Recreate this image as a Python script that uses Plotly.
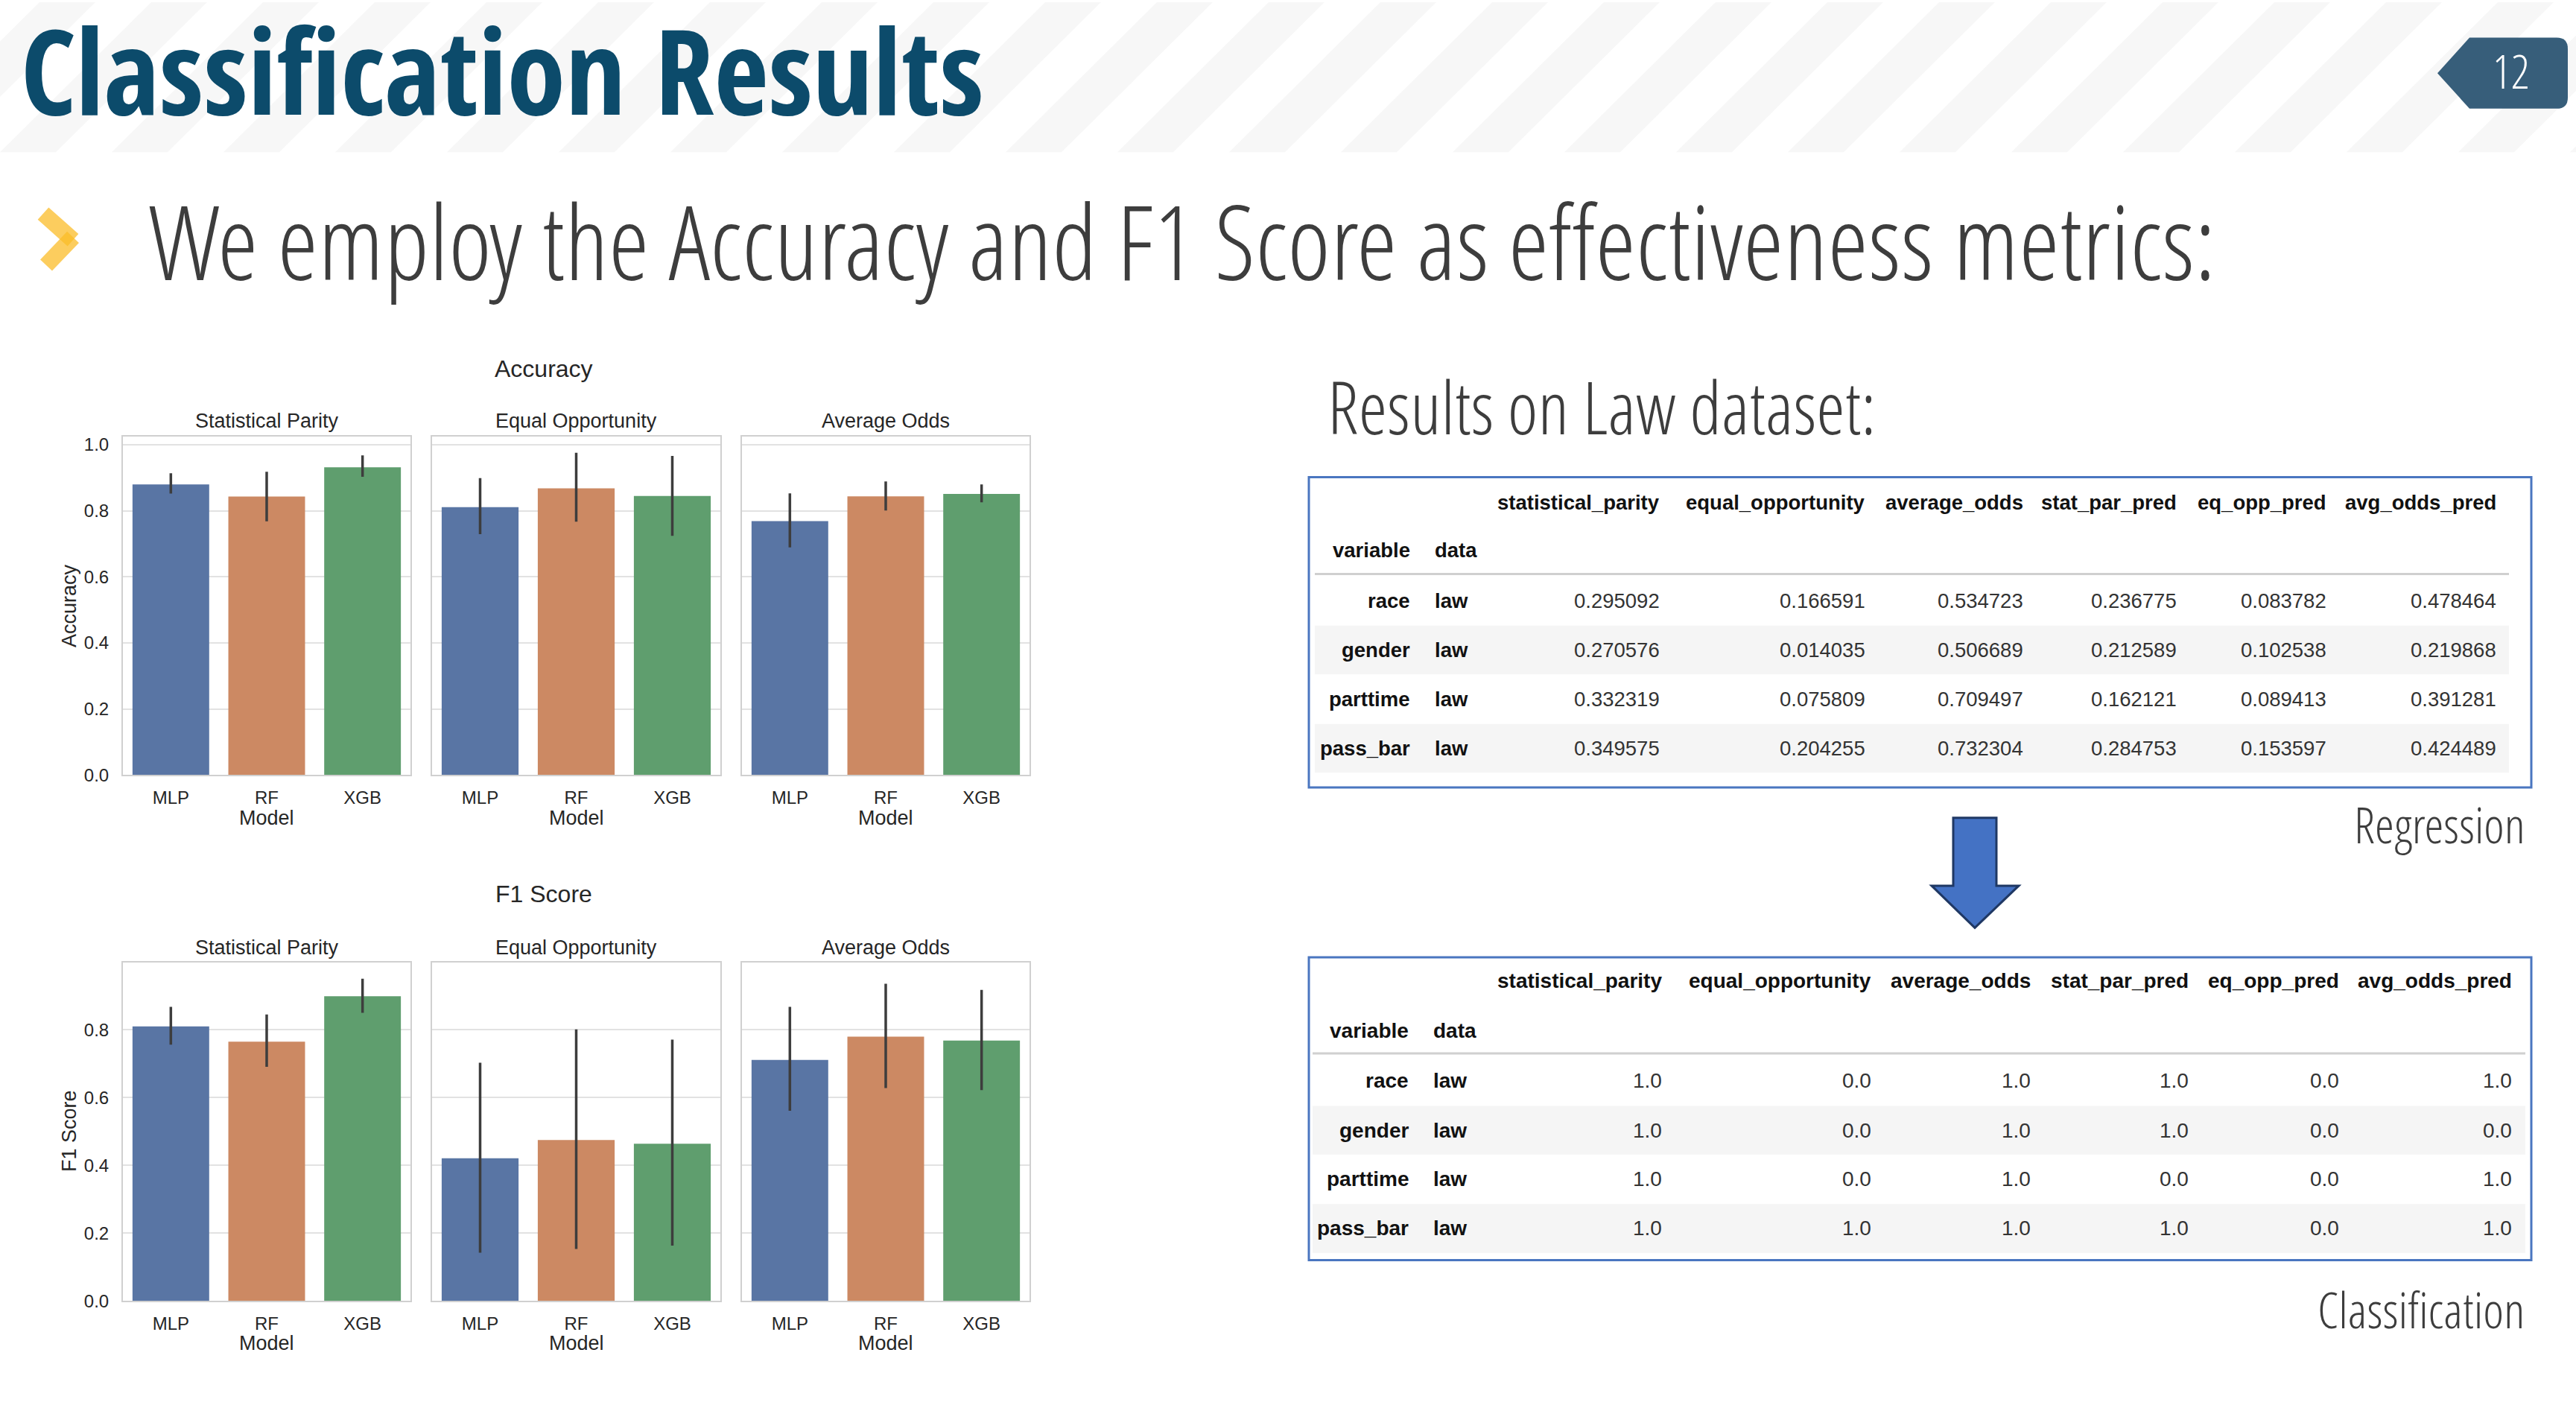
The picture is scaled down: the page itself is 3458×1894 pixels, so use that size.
import plotly.graph_objects as go

W, H = 3458, 1894

# ---------------- data ----------------
models = ["MLP", "RF", "XGB"]
fairness_panels = ["Statistical Parity", "Equal Opportunity", "Average Odds"]
bar_colors = ["#5975a4", "#cc8963", "#5f9e6e"]

acc_mean = [[0.880, 0.843, 0.932], [0.811, 0.868, 0.845], [0.769, 0.844, 0.851]]
acc_lo = [[0.852, 0.768, 0.903], [0.729, 0.767, 0.724], [0.689, 0.801, 0.826]]
acc_hi = [[0.914, 0.918, 0.968], [0.899, 0.976, 0.966], [0.853, 0.889, 0.880]]

f1_mean = [[0.810, 0.765, 0.899], [0.421, 0.475, 0.464], [0.711, 0.780, 0.768]]
f1_lo = [[0.756, 0.691, 0.850], [0.142, 0.153, 0.163], [0.561, 0.628, 0.622]]
f1_hi = [[0.868, 0.845, 0.951], [0.703, 0.801, 0.771], [0.868, 0.936, 0.918]]

table_cols = ["statistical_parity", "equal_opportunity", "average_odds",
              "stat_par_pred", "eq_opp_pred", "avg_odds_pred"]
index_variable = ["race", "gender", "parttime", "pass_bar"]
index_data = ["law", "law", "law", "law"]
regression_values = [
    [0.295092, 0.166591, 0.534723, 0.236775, 0.083782, 0.478464],
    [0.270576, 0.014035, 0.506689, 0.212589, 0.102538, 0.219868],
    [0.332319, 0.075809, 0.709497, 0.162121, 0.089413, 0.391281],
    [0.349575, 0.204255, 0.732304, 0.284753, 0.153597, 0.424489],
]
classification_values = [
    [1.0, 0.0, 1.0, 1.0, 0.0, 1.0],
    [1.0, 0.0, 1.0, 1.0, 0.0, 0.0],
    [1.0, 0.0, 1.0, 0.0, 0.0, 1.0],
    [1.0, 1.0, 1.0, 1.0, 0.0, 1.0],
]

# ---------------- helpers ----------------
def px(x):
    return x / W


def py(y):
    return 1 - y / H


ARIAL = "Liberation Sans, Arial, sans-serif"
LIGHT = "Open Sans Condensed Light, Liberation Sans, sans-serif"
TITLE_FONT = "Open Sans Condensed, Liberation Sans, sans-serif"

annotations = []
shapes = []


def ann(text, x, y, size, color="#262626", family=ARIAL, xanchor="center",
        weight="normal", angle=0):
    annotations.append(dict(
        text=text, x=px(x), y=py(y), xref="paper", yref="paper",
        xanchor=xanchor, yanchor="middle", showarrow=False, textangle=angle,
        font=dict(size=size, color=color, family=family, weight=weight)))


def path_px(points, close=True):
    s = "M " + " L ".join(f"{px(a):.5f},{py(b):.5f}" for a, b in points)
    return s + (" Z" if close else "")


fig = go.Figure()

# ---------------- header stripes ----------------
band = 203
period = 150
for k in range(-2, 26):
    x0 = k * period
    shapes.append(dict(type="path", xref="paper", yref="paper", layer="below",
                       path=path_px([(x0, band), (x0 + 75, band), (x0 + 75 + band, 0), (x0 + band, 0)]),
                       fillcolor="#f7f7f7", line=dict(width=0)))

# ---------------- slide texts ----------------
ann("Classification Results", 26, 90, 159, color="#0c4b6b", family=TITLE_FONT,
    xanchor="left", weight="bold")
ann("We employ the Accuracy and F1 Score as effectiveness metrics:", 198, 322, 139,
    color="#3d3d3d", family=LIGHT, xanchor="left")
ann("Results on Law dataset:", 1780, 547, 98, color="#3d3d3d", family=LIGHT, xanchor="left")
ann("Regression", 3392, 1112, 66, color="#3d3d3d", family=LIGHT, xanchor="right")
ann("Classification", 3392, 1769, 67, color="#3d3d3d", family=LIGHT, xanchor="right")

# bullet chevron
shapes.append(dict(type="line", xref="paper", yref="paper", x0=px(58), y0=py(286), x1=px(98), y1=py(322),
                   line=dict(color="rgba(251,188,40,0.75)", width=22)))
shapes.append(dict(type="line", xref="paper", yref="paper", x0=px(98), y0=py(318), x1=px(62), y1=py(356),
                   line=dict(color="rgba(251,188,40,0.75)", width=22)))

# page badge
badge = "M {} L {} L {} Q {} {} L {} Q {} {} L {} Z".format(
    f"{px(3272):.5f},{py(96):.5f}", f"{px(3315):.5f},{py(48):.5f}", f"{px(3432):.5f},{py(48):.5f}",
    f"{px(3447):.5f},{py(48):.5f}", f"{px(3447):.5f},{py(63):.5f}", f"{px(3447):.5f},{py(129):.5f}",
    f"{px(3447):.5f},{py(144):.5f}", f"{px(3432):.5f},{py(144):.5f}", f"{px(3315):.5f},{py(144):.5f}")
shapes.append(dict(type="path", xref="paper", yref="paper", path=badge,
                   fillcolor="#375e7a", line=dict(width=0)))
ann("12", 3371, 93, 62, color="#ffffff", family=LIGHT)

# ---------------- bar charts ----------------
panel_x = [(165, 551), (580, 967), (996, 1382)]
charts = [
    dict(title="Accuracy", mean=acc_mean, lo=acc_lo, hi=acc_hi, top=588, bottom=1046,
         title_y=496, sub_y=567, model_y=1104, ylab_y=817),
    dict(title="F1 Score", mean=f1_mean, lo=f1_lo, hi=f1_hi, top=1300, bottom=1758,
         title_y=1207, sub_y=1280, model_y=1815, ylab_y=1528),
]

layout_axes = {}
ai = 0
for chart in charts:
    ymax = max(max(r) for r in chart["hi"]) * 1.05
    ticks = [t / 10 for t in range(0, 11, 2) if t / 10 <= ymax]
    for p in range(3):
        ai += 1
        xa = "x" if ai == 1 else f"x{ai}"
        ya = "y" if ai == 1 else f"y{ai}"
        m = chart["mean"][p]
        fig.add_trace(go.Bar(
            x=models, y=m, xaxis=xa, yaxis=ya, width=0.8,
            marker=dict(color=bar_colors, line=dict(width=0)),
            error_y=dict(type="data", symmetric=False,
                         array=[h - v for h, v in zip(chart["hi"][p], m)],
                         arrayminus=[v - l for v, l in zip(m, chart["lo"][p])],
                         thickness=3.5, width=0, color="#3d3d3d"),
            showlegend=False, hoverinfo="skip"))
        x0, x1 = panel_x[p]
        layout_axes["xaxis" if ai == 1 else f"xaxis{ai}"] = dict(
            domain=[px(x0), px(x1)], anchor=ya, range=[-0.5, 2.5], type="category",
            showline=True, mirror=True, linecolor="#d0d0d0", linewidth=2,
            showgrid=False, zeroline=False, ticks="", ticklabelstandoff=8,
            tickfont=dict(size=24, color="#262626", family=ARIAL), fixedrange=True)
        layout_axes["yaxis" if ai == 1 else f"yaxis{ai}"] = dict(
            domain=[py(chart["bottom"]), py(chart["top"])], anchor=xa, range=[0, ymax],
            tickvals=ticks, ticktext=[f"{t:.1f}" for t in ticks],
            showticklabels=(p == 0), ticks="", ticklabelstandoff=12,
            showline=True, mirror=True, linecolor="#d0d0d0", linewidth=2,
            showgrid=True, gridcolor="#e2e2e2", gridwidth=2, zeroline=False,
            tickfont=dict(size=24, color="#262626", family=ARIAL), fixedrange=True)
        ann(fairness_panels[p], (x0 + x1) / 2, chart["sub_y"], 27)
        ann("Model", (x0 + x1) / 2, chart["model_y"], 27)
    ann(chart["title"], 730, chart["title_y"], 32)
    ann(chart["title"], 93, chart["ylab_y"], 27, angle=-90)

# ---------------- tables ----------------
tables = [
    dict(values=regression_values, fmt="{:.6f}", size=27.5,
         col_right=[2230, 2506, 2718, 2924, 3125, 3353], idx_right=1895, data_left=1924,
         box=(1757, 643, 3398, 1063), header_y=677, name_y=742, sep_y=774,
         row_y=[810, 877, 943, 1010], shade=(1765, 3368)),
    dict(values=classification_values, fmt="{:.1f}", size=28,
         col_right=[2233, 2514, 2728, 2940, 3142, 3374], idx_right=1893, data_left=1922,
         box=(1757, 1293, 3398, 1703), header_y=1325, name_y=1392, sep_y=1423,
         row_y=[1460, 1527, 1593, 1660], shade=(1762, 3390)),
]
for t in tables:
    fs = t["size"]
    for i, ry in enumerate(t["row_y"]):
        if i % 2 == 1:
            shapes.append(dict(type="rect", xref="paper", yref="paper", layer="below",
                               x0=px(t["shade"][0]), x1=px(t["shade"][1]),
                               y0=py(ry - 33), y1=py(ry + 33),
                               fillcolor="#f5f5f5", line=dict(width=0)))
    shapes.append(dict(type="line", xref="paper", yref="paper",
                       x0=px(t["shade"][0]), x1=px(t["shade"][1]),
                       y0=py(t["sep_y"]), y1=py(t["sep_y"]),
                       line=dict(color="#d0d0d0", width=3)))
    bx0, by0, bx1, by1 = t["box"]
    shapes.append(dict(type="rect", xref="paper", yref="paper",
                       x0=px(bx0), x1=px(bx1), y0=py(by1), y1=py(by0),
                       line=dict(color="#4a76c0", width=3), fillcolor="rgba(0,0,0,0)"))
    for c, name in enumerate(table_cols):
        ann(name, t["col_right"][c], t["header_y"], fs, color="#111111",
            xanchor="right", weight="bold")
    ann("variable", t["idx_right"], t["name_y"], fs, color="#111111", xanchor="right", weight="bold")
    ann("data", t["data_left"], t["name_y"], fs, color="#111111", xanchor="left", weight="bold")
    for i, ry in enumerate(t["row_y"]):
        ann(index_variable[i], t["idx_right"], ry, fs, color="#111111", xanchor="right", weight="bold")
        ann(index_data[i], t["data_left"], ry, fs, color="#111111", xanchor="left", weight="bold")
        for c in range(len(table_cols)):
            ann(t["fmt"].format(t["values"][i][c]), t["col_right"][c], ry, fs,
                color="#333333", xanchor="right")

# arrow between tables
arrow_pts = [(2622, 1104), (2680, 1104), (2680, 1196), (2710, 1196), (2651, 1253),
             (2593, 1196), (2622, 1196)]
shapes.append(dict(type="path", xref="paper", yref="paper", path=path_px(arrow_pts),
                   fillcolor="#4472c4", line=dict(color="#1f3864", width=3)))

fig.update_layout(
    width=W, height=H, margin=dict(l=0, r=0, t=0, b=0),
    paper_bgcolor="white", plot_bgcolor="white",
    annotations=annotations, shapes=shapes, showlegend=False,
    **layout_axes)

fig.write_html("out.html")
